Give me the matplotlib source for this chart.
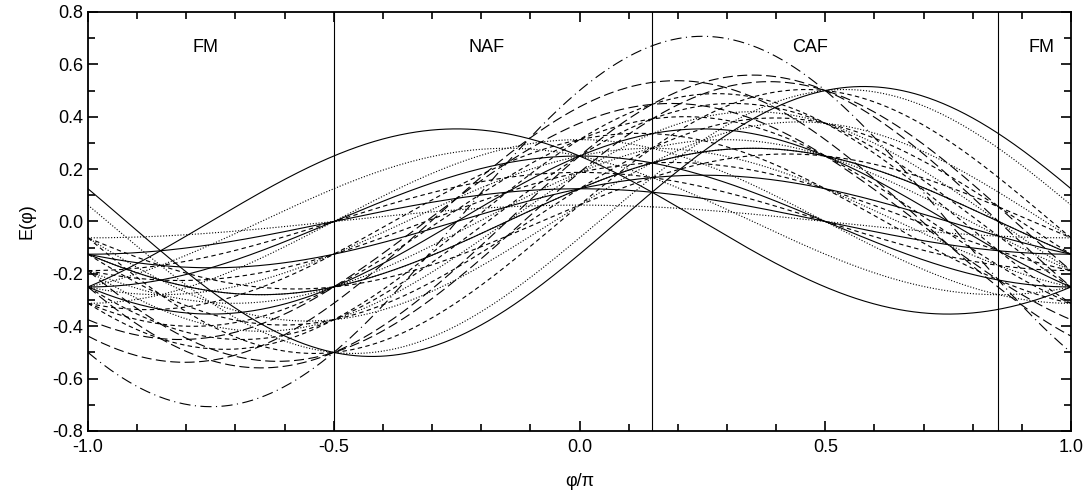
import numpy as np
import matplotlib
matplotlib.use("Agg")
import matplotlib.pyplot as plt
from matplotlib.ticker import MultipleLocator

plt.rcParams["font.family"] = ["Liberation Sans", "DejaVu Sans"]
plt.rcParams["axes.unicode_minus"] = False

# E(phi) = a*cos(phi) + b*sin(phi), i.e. J1 = cos(phi), J2 = sin(phi)
solid_a = [-0.125, 0.25, 0.125, 0.125, 0.25, 0.25, 0.125]
solid_b = [0.5, -0.25, 0.125, 0.0, 0.0, 0.25, 0.25]

dotted_a = [-0.0625, 0.0625, 0.1875, 0.25, 0.125, 0.0625, 0.25, 0.1875, 0.3125]
dotted_b = [0.5, 0.375, 0.25, -0.125, 0.25, 0.0, 0.125, 0.375, 0.0]

dashed_a = [0.0625, 0.125, 0.25, 0.3125, 0.0625, 0.1875, 0.3125, 0.1875, 0.3125]
dashed_b = [0.5, 0.375, 0.375, 0.25, 0.25, 0.125, 0.125, 0.0, 0.375]

longdash_a = [0.25, 0.4375, 0.375, 0.1875]
longdash_b = [0.5, 0.3125, 0.25, 0.5]

dashdot_a = [0.5]
dashdot_b = [0.5]

boundaries = [-0.5, np.arctan(0.5) / np.pi, 1 - np.arctan(0.5) / np.pi]
phase_names = ["FM", "NAF", "CAF", "FM"]
phase_x = [-0.76, -0.19, 0.47, 0.94]

styles = [
    (solid_a, solid_b, "-"),
    (dotted_a, dotted_b, (0, (1, 1.6))),
    (dashed_a, dashed_b, (0, (4, 3))),
    (longdash_a, longdash_b, (0, (9, 4))),
    (dashdot_a, dashdot_b, (0, (10, 4, 1, 4))),
]

x = np.linspace(-1, 1, 801)

fig = plt.figure(figsize=(10.89, 4.97), dpi=100)
ax = fig.add_axes([0.0808, 0.1328, 0.9027, 0.8431])

for a_vals, b_vals, ls in styles:
    for a, b in zip(a_vals, b_vals):
        y = a * np.cos(np.pi * x) + b * np.sin(np.pi * x)
        ax.plot(x, y, color="black", linestyle=ls, linewidth=0.8)

for xb in boundaries:
    ax.axvline(xb, color="black", linewidth=0.8)

for name, xp in zip(phase_names, phase_x):
    ax.text(xp, 0.665, name, ha="center", va="center", fontsize=13)

ax.set_xlim(-1, 1)
ax.set_ylim(-0.8, 0.8)
ax.xaxis.set_major_locator(MultipleLocator(0.5))
ax.xaxis.set_minor_locator(MultipleLocator(0.1))
ax.yaxis.set_major_locator(MultipleLocator(0.2))
ax.yaxis.set_minor_locator(MultipleLocator(0.1))
ax.xaxis.set_major_formatter(plt.FormatStrFormatter("%.1f"))
ax.yaxis.set_major_formatter(plt.FormatStrFormatter("%.1f"))
ax.tick_params(which="both", direction="in", top=True, right=True, width=1.2)
ax.tick_params(which="major", length=7, labelsize=13)
ax.tick_params(which="minor", length=5)
ax.tick_params(axis="x", which="major", pad=6)
for sp in ax.spines.values():
    sp.set_linewidth(1.3)

ax.set_xlabel("\u03c6/\u03c0", fontsize=13, labelpad=12)
ax.set_ylabel("E(\u03c6)", fontsize=13, labelpad=12)

fig.savefig("out.png", dpi=100)
